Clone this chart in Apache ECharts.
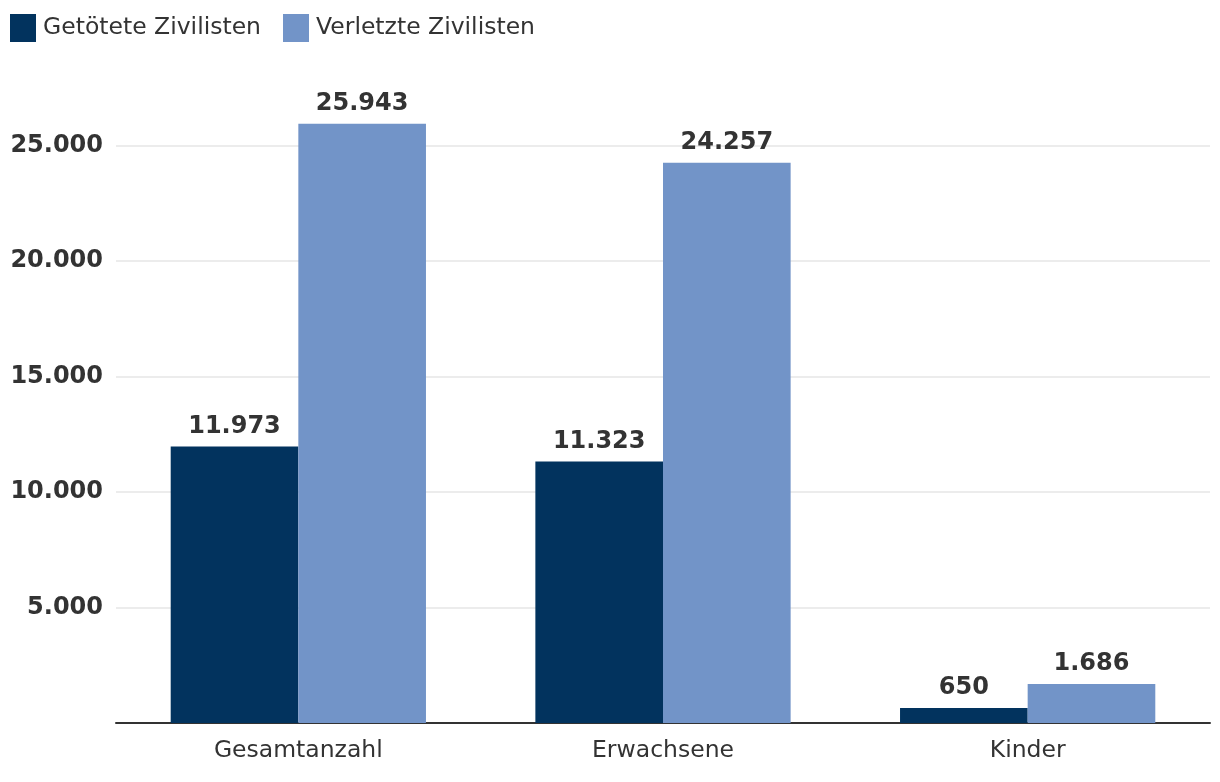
<!DOCTYPE html>
<html>
<head>
<meta charset="utf-8">
<script src="https://cdn.jsdelivr.net/npm/echarts@6/dist/echarts.min.js"></script>
<style>html,body{margin:0;padding:0;background:#fff}#c{width:1220px;height:782px}</style>
</head>
<body>
<div id="c"></div>
<script>
const categories = ['Gesamtanzahl', 'Erwachsene', 'Kinder'];
const killed = [11973, 11323, 650];
const injured = [25943, 24257, 1686];
const seriesNames = ['Getötete Zivilisten', 'Verletzte Zivilisten'];

const FONT = '"DejaVu Sans", Verdana, sans-serif';
const chart = echarts.init(document.getElementById('c'));
const fmt = v => String(v).replace(/\B(?=(\d{3})+(?!\d))/g, '.');
const labelCfg = {
  show: true, position: 'top', distance: 8,
  fontFamily: FONT, fontSize: 24, fontWeight: 'bold', color: '#333',
  formatter: p => fmt(p.value)
};
chart.setOption({
  animation: false,
  textStyle: { fontFamily: FONT },
  legend: {
    left: 5, top: 9, itemWidth: 26, itemHeight: 28, itemGap: 22,
    icon: 'rect',
    textStyle: { fontFamily: FONT, fontSize: 23.5, color: '#333', padding: [0, 0, 0, 2] },
    data: seriesNames
  },
  grid: { left: 116, right: 10, top: 30, bottom: 59, containLabel: false },
  xAxis: {
    type: 'category', data: categories,
    axisLine: { lineStyle: { color: '#333', width: 2 } },
    axisTick: { show: false },
    axisLabel: { fontFamily: FONT, fontSize: 23.5, color: '#333', margin: 16 }
  },
  yAxis: {
    type: 'value', min: 0, max: 30000, interval: 5000,
    axisLine: { show: false }, axisTick: { show: false },
    axisLabel: {
      fontFamily: FONT, fontSize: 24, fontWeight: 'bold', color: '#333', margin: 13,
      showMaxLabel: false,
      formatter: v => v === 0 ? '' : fmt(v)
    },
    splitLine: { lineStyle: { color: ['#e6e6e6','#e6e6e6','#e6e6e6','#e6e6e6','#e6e6e6','#e6e6e6','rgba(0,0,0,0)'], width: 1.5 } }
  },
  series: [
    { name: seriesNames[0], type: 'bar', data: killed, barWidth: '35%', barGap: '0%',
      itemStyle: { color: '#02335e' }, label: labelCfg },
    { name: seriesNames[1], type: 'bar', data: injured, barWidth: '35%', barGap: '0%',
      itemStyle: { color: '#7294c8' }, label: labelCfg }
  ]
});
</script>
</body>
</html>
